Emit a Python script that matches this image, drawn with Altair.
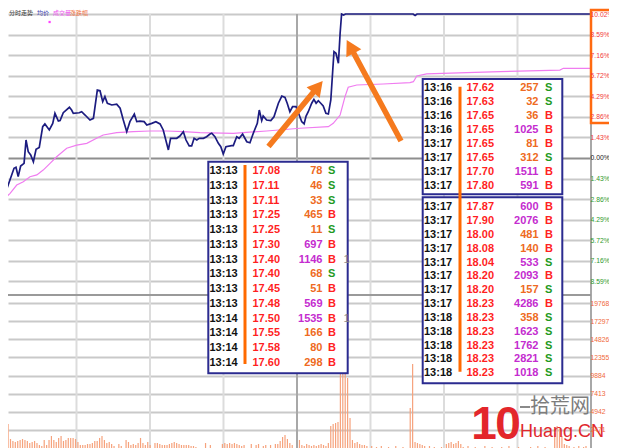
import math
import altair as alt
import pandas as pd

M = 8  # html page margin

# ------------------------------------------------------------------ data
price_min = [0.4, 1.5, 4.5, 5.3, 6.2, 7.2, 8.6, 9.4, 10.3, 11.3,
             12.4, 13.5, 14.8, 16.2, 17.1, 18.9, 20.3, 21.2, 22.6, 23.3,
             24.6, 27.1, 28.0, 28.7, 31.1, 32.1, 33.5, 35.5, 36.9, 38.5,
             39.6, 40.7, 41.6, 42.6, 44.4, 46.4, 47.8, 49.1, 50.5, 51.8,
             53.6, 54.6, 55.9, 57.6, 58.7, 60.7, 62.4, 64.1, 65.4, 67.5,
             68.4, 70.9, 72.2, 73.6, 74.7, 76.0, 77.0, 78.0, 79.1, 80.1,
             81.8, 83.1, 84.5, 85.2, 86.5, 87.9, 88.9, 89.9, 91.0, 93.3,
             94.0, 95.4, 96.4, 97.8, 99.5, 100.8, 101.9, 102.4, 103.8, 104.6,
             105.6, 106.2, 107.6, 109.3, 110.6, 112.4, 113.8, 115.1, 116.0, 117.1,
             118.2, 119.6, 120.9, 121.9, 122.9, 123.7, 124.6, 126.0, 126.9, 127.8,
             128.7, 129.7, 130.7, 131.8, 132.8, 133.8, 134.6, 135.1, 135.9, 136.9,
             137.6, 138.2, 139.0, 139.8, 167.4, 168.2, 169.0, 240.0]
price_pct = [-1.72, -2.18, -0.72, -0.65, -1.30, -0.56, -0.37, 1.25, 0.44, 0.21,
             -0.26, 0.61, 0.74, 2.18, 2.37, 1.95, 2.41, 3.11, 2.57, 2.60,
             3.15, 3.53, 3.34, 3.11, 3.15, 3.22, 2.99, 2.64, 2.76, 4.73,
             4.68, 3.92, 4.27, 3.81, 3.69, 3.74, 3.46, 2.64, 1.83, 2.53,
             3.06, 2.53, 2.57, 2.53, 2.30, 2.41, 2.53, 2.37, 1.95, 0.56,
             1.37, 1.37, 1.53, 1.83, 1.25, 0.84, 0.84, 1.37, 1.25, 1.37,
             1.37, 1.48, 1.67, 1.72, 1.48, 1.02, 0.79, 0.28, 0.79, 0.86,
             0.86, 1.48, 1.37, 1.67, 1.13, 1.06, 1.60, 1.83, 2.41, 3.34,
             2.60, 2.92, 2.64, 2.60, 2.87, 3.81, 4.31, 4.22, 3.81, 3.22,
             3.57, 3.57, 2.99, 2.53, 2.37, 2.92, 3.22, 3.81, 4.08, 3.81,
             3.99, 3.81, 3.62, 3.11, 3.06, 4.04, 6.12, 7.40, 7.29, 6.59,
             8.68, 10.02, 9.95, 10.02, 10.02, 9.92, 10.02, 10.02]

avg_min = [0.1, 2.9, 5.6, 8.3, 11.0, 13.8, 16.4, 19.2, 21.9, 26.0, 30.1, 34.2, 38.2,
           40.9, 46.4, 53.2, 60.0, 66.8, 73.6, 80.4, 94.0, 107.6, 121.2, 132.8, 134.8,
           137.6, 139.6, 140.9, 144.4, 155.2, 166.1, 167.5, 168.9, 172.9, 189.3, 202.9,
           227.3, 228.7, 240.0]
avg_pct = [-2.92, -2.46, -1.88, -1.65, -1.30, -1.18, -0.84, -0.37, 0.09, 0.68, 0.90, 1.02, 1.37,
           1.60, 1.76, 1.83, 1.88, 1.88, 1.83, 1.76, 1.72, 1.88, 2.07, 2.18, 2.41,
           2.99, 4.27, 4.92, 5.08, 5.15, 5.24, 5.31, 5.71, 5.85, 5.94, 6.01,
           6.12, 6.24, 6.24]

vol = [3280, 1230, 960, 820, 960, 1090, 1230, 1090, 960, 680,
       820, 960, 680, 410, 270, 1090, 410, 1090, 1640, 1090,
       820, 1370, 1640, 960, 1090, 1370, 1370, 1370, 1230, 820,
       410, 410, 410, 550, 550, 680, 960, 960, 1370, 1640,
       1090, 680, 820, 550, 270, 0, 550, 270, 0, 1090,
       820, 410, 550, 410, 680, 1370, 680, 410, 820, 410,
       0, 680, 680, 550, 410, 410, 410, 550, 680, 820,
       680, 550, 410, 410, 410, 410, 270, 270, 140, 0,
       0, 0, 680, 0, 410, 0, 0, 0, 0, 550,
       680, 550, 680, 550, 680, 550, 410, 270, 410, 0,
       0, 550, 0, 410, 550, 0, 270, 410, 0, 410,
       0, 550, 550, 960, 1500, 1780, 1230, 680, 410, 0,
       0, 1090, 410, 270, 550, 410, 270, 410, 270, 410,
       550, 410, 270, 680, 3000, 3280, 3410, 3550, 19500, 10650,
       10100, 9550, 4100, 1090, 680, 820, 550, 410, 410, 270,
       0, 270, 0, 140, 0, 270, 0, 0, 140, 0,
       0, 270, 0, 0, 140, 0, 0, 5460, 11470, 820,
       680, 550, 410, 270, 0, 270, 0, 140, 0, 0,
       140, 0, 550, 680, 820, 550, 680, 960, 550, 140,
       0, 270, 0, 0, 140, 0, 0, 0, 270, 0,
       0, 140, 0, 0, 0, 140, 0, 0, 270, 0,
       0, 0, 140, 0, 0, 0, 0, 140, 0, 0,
       270, 0, 0, 140, 0, 0, 0, 2050, 3000, 2590,
       1640, 550, 410, 270, 0, 140, 0, 270, 0, 140,
       270]

pct_ticks = [10.02, 8.59, 7.16, 5.72, 4.29, 2.86, 1.43, 0.0,
             -1.43, -2.86, -4.29, -5.72, -7.16, -8.59]
vol_ticks = [19768, 17297, 14826, 12355, 9884, 7413, 4942, 2471]
grid_minutes = [0, 30, 60, 90, 120, 150, 180, 210, 240]

t1_time = ["13:13"] * 10 + ["13:14"] * 4
t1_price = ["17.08", "17.11", "17.11", "17.25", "17.25", "17.30", "17.40",
            "17.40", "17.45", "17.48", "17.50", "17.55", "17.58", "17.60"]
t1_vol = [78, 46, 33, 465, 11, 697, 1146, 68, 51, 569, 1535, 166, 80, 298]
t1_side = list("SSSBSBBSBBBBBB")

t2_time = ["13:16"] * 4 + ["13:17"] * 4
t2_price = ["17.62", "17.63", "17.65", "17.65", "17.65", "17.65", "17.70", "17.80"]
t2_vol = [257, 32, 36, 1025, 81, 312, 1511, 591]
t2_side = list("SSBBBSBB")

t3_time = ["13:17"] * 8 + ["13:18"] * 5
t3_price = ["17.87", "17.90", "18.00", "18.08", "18.04", "18.20", "18.20",
            "18.23", "18.23", "18.23", "18.23", "18.23", "18.23"]
t3_vol = [600, 2076, 481, 140, 533, 2093, 157, 4286, 358, 1623, 1762, 2821, 1018]
t3_side = list("BBBBSBSBSSSSS")

legend_text = ["分时走势", "均价", "成交量", "涨跌幅"]
wm_cn = "拾荒网"
wm_en = "Huang.CN"

# ------------------------------------------------------------------ layout / style
W, H = 583, 440
PAD_R = 18                      # svg width 601 = 617 - 2*8 page margin
XDOM = [2.041, 240.0]
PDOM = [-20.181, 10.438]
VDOM = [0, 60060]

AXFONT = "'Liberation Sans', Arial, sans-serif"
TFONT = "'Liberation Sans', Arial, sans-serif"

C_TIME, C_PRICE = "#111111", "#ff1f1f"
C_VOL_S, C_VOL_L = "#ee6a22", "#c42ccf"
C_B, C_S = "#ff2222", "#1f9a1f"
C_NAVY, C_ORANGE = "#2b2b90", "#ff6a10"

xs = alt.Scale(domain=XDOM, nice=False, zero=False)
ps = alt.Scale(domain=PDOM, nice=False, zero=False)
vs = alt.Scale(domain=VDOM, nice=False, zero=False)


def PX(f):
    return alt.X(f, scale=None, axis=None)


def PY(f):
    return alt.Y(f, scale=None, axis=None)


# grid-only axes (drawn beneath the marks)
price_grid_axis = alt.Axis(
    orient="right", values=pct_ticks, title=None, ticks=False, labels=False, domain=False,
    grid=True, gridWidth=2,
    gridColor={"condition": {"test": "abs(datum.value) < 0.001", "value": "#8e8e8e"},
               "value": "#c9c9c9"},
)
vol_grid_axis = alt.Axis(
    orient="right", values=vol_ticks, title=None, ticks=False, labels=False, domain=False,
    grid=True, gridWidth=2, gridColor="#c9c9c9",
)
# label-only axes (drawn above the marks)
price_label_axis = alt.Axis(
    orient="right", values=pct_ticks, title=None, ticks=False, tickSize=0, domain=False,
    grid=False, zindex=2,
    labelExpr="format(abs(datum.value), '.2f') + '%'",
    labelFont=AXFONT, labelFontSize=6.8, labelPadding=-1,
    labelColor={"condition": [{"test": "datum.value > 0.001", "value": "#f23a3a"},
                              {"test": "datum.value < -0.001", "value": "#2e9a2e"}],
                "value": "#222222"},
    labelOverlap=False, labelBound=False, labelFlush=False,
)
vol_label_axis = alt.Axis(
    orient="right", values=vol_ticks, title=None, ticks=False, tickSize=0, domain=False,
    grid=False, zindex=2, format="d",
    labelFont=AXFONT, labelFontSize=6.8, labelPadding=-1, labelColor="#f06a3c",
    labelOverlap=False, labelBound=False, labelFlush=False,
)

# ------------------------------------------------------------------ chart layers
vgrid = alt.Chart(pd.DataFrame({"m": grid_minutes, "top": 10.02, "bot": PDOM[0]})).mark_rule(
    strokeWidth=2).encode(
    x=alt.X("m:Q", scale=xs, axis=None),
    y=alt.Y("top:Q", scale=ps, axis=None), y2="bot:Q",
    color=alt.condition("datum.m == 120 || datum.m == 240",
                        alt.value("#a8a8a8"), alt.value("#dcdcdc")),
)

sep = alt.Chart(pd.DataFrame({"m0": [XDOM[0]], "m1": [240.0], "p": [-9.53]})).mark_rule(
    strokeWidth=2, color="#9a9a9a").encode(
    x=alt.X("m0:Q", scale=xs, axis=None), x2="m1:Q",
    y=alt.Y("p:Q", scale=ps, axis=None))

bars = alt.Chart(pd.DataFrame({"m": list(range(len(vol))), "v": vol})).mark_bar(
    width=1.2, color="#f6a27c").encode(
    x=alt.X("m:Q", scale=xs, axis=None),
    y=alt.Y("v:Q", scale=vs, axis=vol_grid_axis))

avg = alt.Chart(pd.DataFrame({"m": avg_min, "p": avg_pct})).mark_line(
    color="#f07cf0", strokeWidth=1.2).encode(
    x=alt.X("m:Q", scale=xs, axis=None), y=alt.Y("p:Q", scale=ps, axis=None))

price = alt.Chart(pd.DataFrame({"m": price_min, "p": price_pct})).mark_line(
    color="#1c1c80", strokeWidth=1.7).encode(
    x=alt.X("m:Q", scale=xs, axis=None), y=alt.Y("p:Q", scale=ps, axis=price_grid_axis))

price_labels = alt.Chart(pd.DataFrame({"p": pct_ticks})).mark_tick(opacity=0).encode(
    y=alt.Y("p:Q", scale=ps, axis=price_label_axis))
vol_labels = alt.Chart(pd.DataFrame({"v": vol_ticks})).mark_tick(opacity=0).encode(
    y=alt.Y("v:Q", scale=vs, axis=vol_label_axis))

# ---- trade tables (overlay annotations)
TABLES = [
    (t1_time, t1_price, t1_vol, t1_side,
     dict(box=(208.3, 161.7, 347.7, 373.3), row0=171.0, dy=14.75, xt=209.5, xp=252.5, xv=322.5, xs=328.0)),
    (t2_time, t2_price, t2_vol, t2_side,
     dict(box=(422.7, 79.0, 562.3, 194.3), row0=88.3, dy=13.96, xt=424.0, xp=466.5, xv=538.5, xs=545.0)),
    (t3_time, t3_price, t3_vol, t3_side,
     dict(box=(422.7, 197.3, 562.3, 383.3), row0=207.3, dy=13.83, xt=424.0, xp=466.5, xv=538.5, xs=545.0)),
]
boxes, left_rows, right_rows = [], [], []
for times, prices, vols, sides, L in TABLES:
    bx1, by1, bx2, by2 = L["box"]
    boxes.append(dict(x1=bx1 - M, y1=by1 - M, x2=bx2 - M, y2=by2 - M))
    for r, (t, p, v, s) in enumerate(zip(times, prices, vols, sides)):
        yy = L["row0"] + r * L["dy"] - M
        left_rows.append(dict(x=L["xt"] - M, y=yy, text=t, color=C_TIME))
        left_rows.append(dict(x=L["xp"] - M, y=yy, text=p, color=C_PRICE))
        left_rows.append(dict(x=L["xs"] - M, y=yy, text=s, color=C_B if s == "B" else C_S))
        right_rows.append(dict(x=L["xv"] - M, y=yy, text=str(v),
                               color=C_VOL_L if v >= 500 else C_VOL_S))

box_layer = alt.Chart(pd.DataFrame(boxes)).mark_rect(
    fill="white", stroke=C_NAVY, strokeWidth=2).encode(
    x=PX("x1:Q"), x2="x2:Q", y=PY("y1:Q"), y2="y2:Q")

obars = pd.DataFrame([
    dict(x1=243.5 - M, x2=246.5 - M, y1=165.0 - M, y2=364.0 - M),
    dict(x1=458.5 - M, x2=461.5 - M, y1=86.7 - M, y2=371.7 - M),
])
obar_layer = alt.Chart(obars).mark_rect(color="#ff6a00").encode(
    x=PX("x1:Q"), x2="x2:Q", y=PY("y1:Q"), y2="y2:Q")


def txt(df, align, size=11, weight="bold", font=TFONT, baseline="middle"):
    return alt.Chart(df).mark_text(
        align=align, baseline=baseline, font=font, fontSize=size, fontWeight=weight).encode(
        x=PX("x:Q"), y=PY("y:Q"), text="text:N", color=alt.Color("color:N", scale=None))


txt_left = txt(pd.DataFrame(left_rows), "left")
txt_right = txt(pd.DataFrame(right_rows), "right")
residue = txt(pd.DataFrame([dict(x=343.5 - M, y=259.5 - M, text="1", color="#8a8a8a"),
                            dict(x=343.5 - M, y=318.5 - M, text="1", color="#8a8a8a")]),
              "left", weight="normal")


# ---- arrows
def arrow_path(tx, ty, hx, hy, w=2.8, hw=8.5, hl=15.0):
    dx, dy = hx - tx, hy - ty
    L = math.hypot(dx, dy)
    ux, uy = dx / L, dy / L
    nx, ny = -uy, ux
    kx, ky = dx - ux * hl, dy - uy * hl
    pts = [(nx * w, ny * w), (kx + nx * w, ky + ny * w), (kx + nx * hw, ky + ny * hw),
           (dx, dy), (kx - nx * hw, ky - ny * hw), (kx - nx * w, ky - ny * w),
           (-nx * w, -ny * w)]
    return "M" + " L".join(f"{x:.2f},{y:.2f}" for x, y in pts) + " Z"


def arrow(tx, ty, hx, hy):
    return alt.Chart(pd.DataFrame({"x": [tx - M], "y": [ty - M]})).mark_point(
        shape=arrow_path(tx, ty, hx, hy), size=4, filled=True, fill="#f57a1e",
        opacity=1, strokeWidth=0).encode(x=PX("x:Q"), y=PY("y:Q"))


arrow1 = arrow(268.5, 146.5, 322.7, 81.0)
arrow2 = arrow(401.0, 141.0, 346.7, 40.0)

frame = alt.Chart(pd.DataFrame({"x1": [591.0 - M], "x2": [640.0 - M],
                                "y1": [10.0 - M], "y2": [123.0 - M]})).mark_rect(
    fill="white", fillOpacity=0, stroke=C_ORANGE, strokeWidth=2.5).encode(
    x=PX("x1:Q"), x2="x2:Q", y=PY("y1:Q"), y2="y2:Q")

# ---- watermark
logo = txt(pd.DataFrame([dict(x=484 - M, y=439 - M, text="1", color="#e3262b"),
                         dict(x=508 - M, y=439 - M, text="0", color="#e3262b")]),
           "center", size=46, baseline="alphabetic")
dash = alt.Chart(pd.DataFrame({"x1": [520.0 - M], "x2": [530.0 - M], "y": [407.0 - M]})).mark_rule(
    color="#8a8a8a", strokeWidth=2).encode(x=PX("x1:Q"), x2="x2:Q", y=PY("y:Q"))
wm1 = txt(pd.DataFrame([dict(x=530 - M, y=407 - M, text=wm_cn, color="#7d7d7d")]),
          "left", size=20, weight="normal", font="'Noto Sans CJK SC', sans-serif")
wm2 = txt(pd.DataFrame([dict(x=520 - M, y=437 - M, text=wm_en, color="#e0282c")]),
          "left", size=18, weight="normal", baseline="alphabetic")

# ---- tiny legend at top left
leg = txt(pd.DataFrame([
    dict(x=9 - M, y=12.5 - M, text=legend_text[0], color="#333333"),
    dict(x=37 - M, y=12.5 - M, text=legend_text[1], color="#3333aa"),
    dict(x=53 - M, y=12.5 - M, text=legend_text[2], color="#ee55ee"),
    dict(x=70 - M, y=12.5 - M, text=legend_text[3], color="#f07040"),
]), "left", size=6, weight="normal", font="'Noto Sans CJK SC', sans-serif")
dot = alt.Chart(pd.DataFrame({"x": [49.6 - M], "y": [22.0 - M]})).mark_square(
    size=5, color="#ff40ff", opacity=1).encode(x=PX("x:Q"), y=PY("y:Q"))

chart = alt.layer(
    vgrid, sep, bars, avg, price,
    box_layer, obar_layer, txt_left, txt_right, residue,
    arrow1, arrow2, frame, logo, dash, wm1, wm2, leg, dot,
    price_labels, vol_labels,
).resolve_scale(x="independent", y="independent").properties(
    width=W, height=H,
    padding={"left": 0, "top": 0, "right": PAD_R, "bottom": 0},
    autosize=alt.AutoSizeParams(type="none"),
).configure_view(strokeWidth=0)

chart.save("out.html", embed_options={"renderer": "svg", "actions": False})
